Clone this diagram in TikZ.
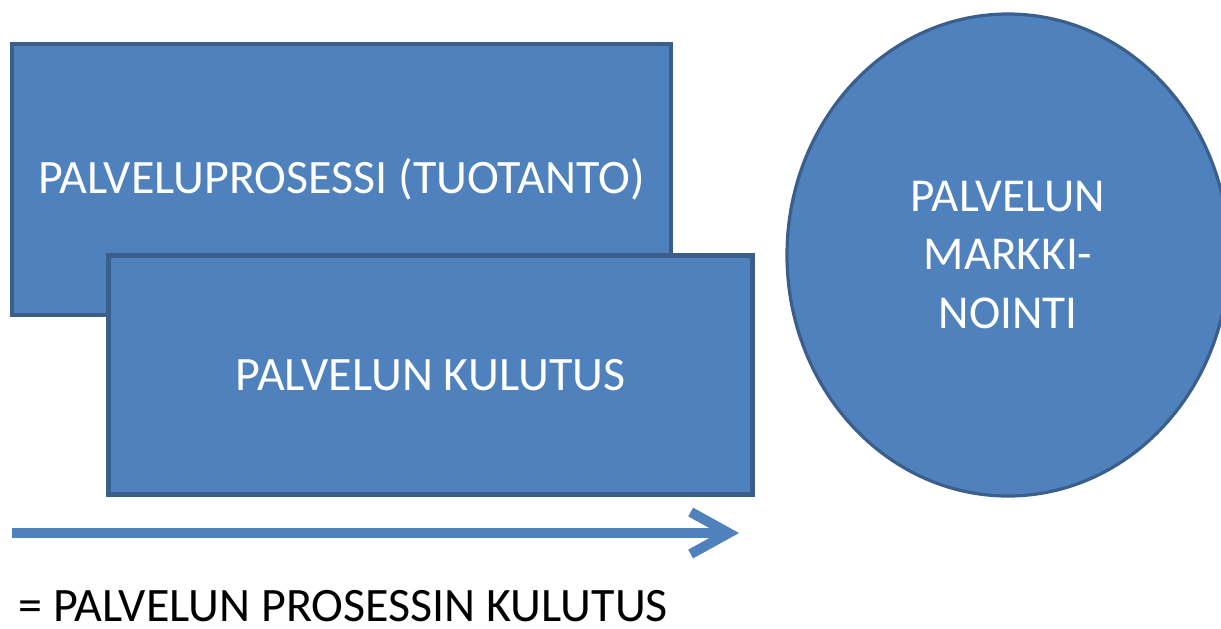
\documentclass[tikz,border=0pt]{standalone}
\usepackage{fontspec}
\setmainfont{Carlito}
\usetikzlibrary{shapes.geometric,arrows.meta}

\definecolor{officeblue}{HTML}{4F81BD}
\definecolor{officeedge}{HTML}{3A5F8C}

\begin{document}
\begin{tikzpicture}[x=0.5pt, y=-0.5pt,
    block/.style={rectangle, draw=officeedge, fill=officeblue, line width=2.3pt, text=white, font=\fontsize{24}{29}\selectfont},
    roundblock/.style={ellipse, draw=officeedge, fill=officeblue, line width=1.6pt, text=white, inner sep=0pt, align=center, font=\fontsize{23.6}{29.3}\selectfont},
    flow/.style={draw=officeblue, line width=5pt, -{Straight Barb[length=19pt, width=21pt]}}]
    \useasboundingbox (0, 0) rectangle (1221, 628);
    \node[block, minimum width=329.5pt, minimum height=135.5pt] (tuotanto) at (341.5, 179.5) {PALVELUPROSESSI (TUOTANTO)};
    \node[block, minimum width=322pt, minimum height=119.5pt] (kulutus) at (430.5, 375) {PALVELUN KULUTUS};
    \node[roundblock, minimum width=221pt, minimum height=241pt] (markkinointi) at (1008, 255) {PALVELUN\\MARKKI-\\NOINTI};
    \coordinate (alku) at (12, 533);
    \coordinate (loppu) at (739, 533);
	\draw[flow] (alku) -- (loppu);
    \node[anchor=base west, inner sep=0pt, text depth=0pt, font=\fontsize{24}{29}\selectfont] (selite) at (18, 621) {= PALVELUN PROSESSIN KULUTUS};
\end{tikzpicture}
\end{document}
